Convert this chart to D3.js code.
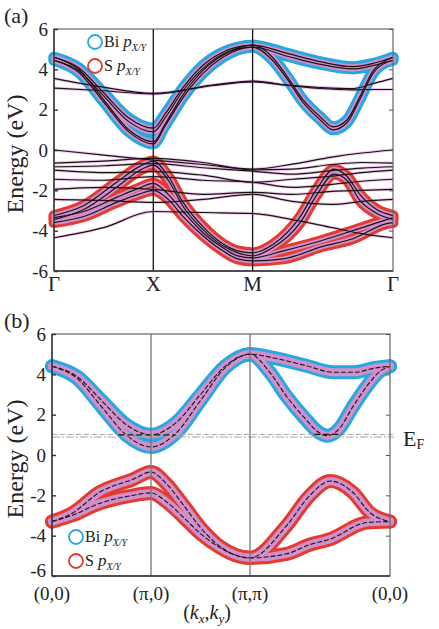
<!DOCTYPE html>
<html>
<head>
<meta charset="utf-8">
<script src="https://cdn.jsdelivr.net/npm/d3@7"></script>
<style>
  body { margin: 0; background: #fff; }
  svg { display: block; }
  text { font-family: "Liberation Serif", "Times New Roman", serif; fill: #222; }
</style>
</head>
<body>
<svg id="chart" width="439" height="629"></svg>
<script>
// k path: Γ=0, X=1, M=2, Γ=2+√2
var kTicks = [0, 1, 2, 3.414];
var kLabelsA = ['Γ', 'X', 'M', 'Γ'];
var kLabelsB = ['(0,0)', '(π,0)', '(π,π)', '(0,0)'];
var eTicks = [-6, -4, -2, 0, 2, 4, 6];

// ---- panel (a): DFT bands, [k, E] ----
// Bi p_x/y conduction bands
var biA1 = [[0,4.6],[0.25,4.08],[0.5,2.84],[0.75,1.6],[1,1.08],[1.12,1.8],[1.3,3.1],[1.5,4.2],[1.7,4.85],[2,5.2],
            [2.2,4.6],[2.35,3.63],[2.51,2.48],[2.68,1.65],[2.81,1.15],[2.95,1.49],[3.08,2.64],[3.22,3.97],[3.35,4.46],[3.414,4.6]];
var biA2 = [[0,4.45],[0.25,3.93],[0.5,2.68],[0.75,1.42],[1,0.9],[1.12,1.6],[1.3,2.95],[1.5,4.05],[1.7,4.75],[2,5.1],
            [2.2,4.45],[2.35,3.5],[2.51,2.35],[2.68,1.5],[2.81,1.0],[2.95,1.35],[3.08,2.5],[3.22,3.85],[3.35,4.35],[3.414,4.45]];
var biA3 = [[0,4.6],[0.25,3.99],[0.5,2.5],[0.75,1.02],[1,0.41],[1.12,1.3],[1.3,2.75],[1.5,3.95],[1.7,4.7],[2,5.2],
            [2.35,4.79],[2.68,4.38],[3.01,4.13],[3.22,4.3],[3.414,4.6]];
var biA4 = [[0,4.45],[0.25,3.84],[0.5,2.38],[0.75,0.91],[1,0.3],[1.12,1.2],[1.3,2.6],[1.5,3.8],[1.7,4.6],[2,5.1],
            [2.35,4.65],[2.68,4.25],[3.01,4.02],[3.22,4.2],[3.414,4.45]];
// flat conduction bands
var flatA1 = [[0,3.55],[0.46,3.14],[1,2.81],[1.6,3.22],[2,3.42],[2.35,3.22],[2.68,3.1],[3.0,3.04],[3.22,3.3],[3.414,3.55]];
var flatA2 = [[0,3.07],[0.46,2.95],[1,2.78],[1.6,3.2],[2,3.38],[2.35,3.2],[2.68,3.05],[3.0,2.98],[3.22,3.0],[3.414,3.0]];
// S p_x/y valence bands
var sA1 = [[0,-3.25],[0.3,-2.75],[0.63,-1.6],[0.85,-0.85],[1,-0.55],[1.15,-1.3],[1.3,-2.6],[1.5,-3.8],[1.7,-4.65],[1.85,-5.0],[2,-5.1],
           [2.2,-4.7],[2.48,-3.3],[2.65,-1.9],[2.82,-0.95],[2.95,-1.3],[3.08,-2.2],[3.25,-2.95],[3.414,-3.25]];
var sA2 = [[0,-3.45],[0.3,-2.95],[0.63,-1.85],[0.85,-1.05],[1,-0.75],[1.15,-1.5],[1.3,-2.8],[1.5,-3.95],[1.7,-4.75],[1.85,-5.1],[2,-5.25],
           [2.2,-4.85],[2.48,-3.6],[2.65,-2.2],[2.82,-1.2],[2.95,-1.5],[3.08,-2.5],[3.25,-3.15],[3.414,-3.45]];
var sA3 = [[0,-3.35],[0.3,-3.05],[0.63,-2.35],[0.85,-1.9],[1,-1.65],[1.15,-2.2],[1.3,-3.05],[1.5,-4.1],[1.7,-4.85],[1.85,-5.25],[2,-5.35],
           [2.31,-5.0],[2.69,-4.5],[3.01,-4.0],[3.35,-3.45],[3.414,-3.35]];
var sA4 = [[0,-3.6],[0.3,-3.3],[0.63,-2.6],[0.85,-2.2],[1,-2.0],[1.15,-2.45],[1.3,-3.3],[1.5,-4.25],[1.7,-5.0],[1.85,-5.4],[2,-5.5],
           [2.31,-5.4],[2.69,-4.8],[3.01,-4.4],[3.35,-3.65],[3.414,-3.6]];
// other valence bands (no strong weight)
var kV = [0, 0.5, 1, 1.5, 2, 2.4, 2.8, 3.1, 3.414];
var valA1 = [0.0, -0.25, -0.5, -0.72, -0.95, -0.7, -0.35, -0.15, 0.0];
var valA2 = [-0.65, -0.55, -0.42, -0.62, -0.99, -0.95, -0.72, -0.62, -0.65];
var valA3 = [-0.83, -0.78, -0.68, -0.88, -1.05, -1.2, -1.02, -0.9, -0.83];
var valA4 = [-1.0, -1.12, -1.07, -1.25, -1.6, -1.45, -1.3, -1.12, -1.0];
var valA5 = [-1.45, -1.5, -1.32, -1.5, -1.6, -1.85, -1.7, -1.55, -1.45];
var valA6 = [-1.95, -1.85, -1.95, -2.2, -2.1, -2.2, -2.05, -2.0, -1.95];
var valA7 = [-2.45, -2.5, -2.6, -2.45, -2.2, -2.55, -2.7, -2.55, -2.45];
var valA8 = [-4.35, -3.85, -3.05, -3.1, -3.15, -3.45, -3.85, -4.15, -4.35];

// ---- panel (b): model bands ----
var biB1 = [[0,4.4],[0.25,3.9],[0.5,2.7],[0.75,1.5],[1,1.0],[1.25,1.59],[1.5,3.0],[1.75,4.41],[2,5.0],
            [2.2,4.1],[2.37,2.9],[2.54,1.9],[2.7,1.1],[2.78,0.95],[2.9,1.3],[3.04,2.4],[3.21,3.6],[3.3,4.1],[3.414,4.4]];
var biB2 = [[0,4.4],[0.25,3.81],[0.5,2.4],[0.75,0.99],[1,0.4],[1.25,1.07],[1.5,2.7],[1.75,4.33],[2,5.0],
            [2.25,4.8],[2.55,4.45],[2.85,4.1],[3.05,4.1],[3.25,4.3],[3.414,4.4]];
var sB1 = [[0,-3.3],[0.2,-2.9],[0.48,-1.85],[0.82,-1.2],[1,-0.84],[1.15,-1.4],[1.33,-2.5],[1.5,-3.6],[1.7,-4.55],[1.85,-4.95],[2,-5.1],
           [2.37,-3.5],[2.6,-2.03],[2.81,-1.29],[3.04,-1.86],[3.21,-2.85],[3.414,-3.3]];
var sB2 = [[0,-3.3],[0.2,-3.0],[0.48,-2.4],[0.82,-2.0],[1,-1.88],[1.15,-2.3],[1.33,-3.1],[1.5,-3.9],[1.7,-4.6],[1.85,-4.97],[2,-5.1],
           [2.37,-4.9],[2.6,-4.45],[2.81,-4.17],[3.18,-3.35],[3.414,-3.3]];
var fermiDash = 1.02;     // dashed grey line
var fermiDashDot = 0.89;  // dash-dot grey line
var markB = [[0.67, 1.25, 1.0], [2.65, 2.93, 1.02]]; // short dashed markers [k0, k1, E]

var BLUE = '#28a8e0', RED = '#e53a2f', PINK = '#cf90cc', INK = '#1c1214';

var svg = d3.select('#chart');

function withK(vals) {
  return vals.map(function(v, i) { return [kV[i], v]; });
}

function drawPanel(cfg) {
  var g = svg.append('g');
  var x = d3.scaleLinear().domain([0, 3.414]).range([cfg.x0, cfg.x1]);
  var y = d3.scaleLinear().domain([-6, 6]).range([cfg.yb, cfg.yt]);
  var line = d3.line().x(function(d) { return x(d[0]); }).y(function(d) { return y(d[1]); }).curve(d3.curveMonotoneX);

  // faint fringes for weak bands
  cfg.plain.forEach(function(b) {
    g.append('path').attr('d', line(b)).attr('fill', 'none')
      .attr('stroke', '#d99ad6').attr('stroke-width', 3).attr('opacity', 0.55);
  });
  // fat outer strokes
  cfg.s.forEach(function(b) {
    g.append('path').attr('d', line(b)).attr('fill', 'none').attr('stroke', RED)
      .attr('stroke-width', cfg.fat).attr('stroke-linecap', 'round').attr('stroke-linejoin', 'round');
  });
  cfg.bi.forEach(function(b) {
    g.append('path').attr('d', line(b)).attr('fill', 'none').attr('stroke', BLUE)
      .attr('stroke-width', cfg.fat).attr('stroke-linecap', 'round').attr('stroke-linejoin', 'round');
  });
  // pink core
  cfg.s.concat(cfg.bi).forEach(function(b) {
    g.append('path').attr('d', line(b)).attr('fill', 'none').attr('stroke', PINK)
      .attr('stroke-width', cfg.fat - 6).attr('stroke-linecap', 'round');
  });
  // black band lines
  cfg.s.concat(cfg.bi).concat(cfg.plain).forEach(function(b) {
    g.append('path').attr('d', line(b)).attr('fill', 'none').attr('stroke', INK)
      .attr('stroke-width', cfg.lw).attr('stroke-dasharray', cfg.dash || null);
  });

  // Fermi lines (panel b)
  if (cfg.fermi) {
    g.append('line').attr('x1', cfg.x0).attr('x2', cfg.x1 + 4)
      .attr('y1', y(fermiDash)).attr('y2', y(fermiDash))
      .attr('stroke', '#a8a8a8').attr('stroke-width', 1).attr('stroke-dasharray', '5,3');
    g.append('line').attr('x1', cfg.x0).attr('x2', cfg.x1 + 4)
      .attr('y1', y(fermiDashDot)).attr('y2', y(fermiDashDot))
      .attr('stroke', '#a8a8a8').attr('stroke-width', 1).attr('stroke-dasharray', '8,2,2,2');
    markB.forEach(function(m) {
      g.append('line').attr('x1', x(m[0])).attr('x2', x(m[1]))
        .attr('y1', y(m[2])).attr('y2', y(m[2]))
        .attr('stroke', INK).attr('stroke-width', 1.2).attr('stroke-dasharray', '6,3');
    });
  }

  // vertical lines at high-symmetry points
  [1, 2].forEach(function(k) {
    g.append('line').attr('x1', x(kTicks[k])).attr('x2', x(kTicks[k]))
      .attr('y1', cfg.yt).attr('y2', cfg.yb)
      .attr('stroke', cfg.vcol).attr('stroke-width', 1.3);
  });

  // frame
  g.append('rect').attr('x', cfg.x0).attr('y', cfg.yt)
    .attr('width', cfg.x1 - cfg.x0).attr('height', cfg.yb - cfg.yt)
    .attr('fill', 'none').attr('stroke', '#666').attr('stroke-width', 1.2);
  g.append('line').attr('x1', cfg.x0).attr('x2', cfg.x0).attr('y1', cfg.yt).attr('y2', cfg.yb)
    .attr('stroke', '#333').attr('stroke-width', 1.4);
  g.append('line').attr('x1', cfg.x0).attr('x2', cfg.x1).attr('y1', cfg.yb).attr('y2', cfg.yb)
    .attr('stroke', '#333').attr('stroke-width', 1.4);

  // y axis ticks + labels
  var ax = g.append('g').attr('transform', 'translate(' + cfg.x0 + ',0)')
    .call(d3.axisLeft(y).tickValues(eTicks).tickSize(-4).tickPadding(6).tickFormat(function(d) { return String(d); }));
  ax.select('.domain').remove();
  ax.selectAll('line').attr('stroke', '#333').attr('stroke-width', 1.4);
  ax.selectAll('text').attr('font-size', 19).attr('font-family', '"Liberation Serif", serif').attr('fill', '#222')
    .attr('dy', function(d) { return d === -6 ? cfg.lowDy : '0.32em'; });
  var axr = g.append('g').attr('transform', 'translate(' + cfg.x1 + ',0)')
    .call(d3.axisRight(y).tickValues(eTicks).tickSize(-4).tickFormat(''));
  axr.select('.domain').remove();
  axr.selectAll('line').attr('stroke', '#555');

  // x labels
  kTicks.forEach(function(k, i) {
    g.append('text').attr('x', x(k)).attr('y', cfg.yb + cfg.labDy)
      .attr('text-anchor', 'middle').attr('font-size', cfg.labSize).text(cfg.labels[i]);
  });

  // y title
  g.append('text').attr('transform', 'translate(' + 23 + ',' + ((cfg.yt + cfg.yb) / 2 + 4) + ') rotate(-90)')
    .attr('text-anchor', 'middle').attr('font-size', 24).text('Energy (eV)');

  // panel tag
  g.append('text').attr('x', 4).attr('y', cfg.yt - 6).attr('font-size', 22).text(cfg.tag);

  // legend
  var items = [['Bi', BLUE], ['S', RED]];
  items.forEach(function(it, i) {
    var cy = cfg.legY + i * 24;
    g.append('circle').attr('cx', cfg.legX).attr('cy', cy).attr('r', 7)
      .attr('fill', 'none').attr('stroke', it[1]).attr('stroke-width', 1.8);
    var t = g.append('text').attr('x', cfg.legX + 9).attr('y', cy + 5).attr('font-size', 16);
    t.append('tspan').text(it[0] + ' ');
    t.append('tspan').attr('font-style', 'italic').attr('font-size', 17).text('p');
    t.append('tspan').attr('font-style', 'italic').attr('font-size', 10).attr('dy', 4).text('X/Y');
  });
  return { x: x, y: y };
}

drawPanel({
  x0: 54, x1: 393, yt: 29, yb: 271, fat: 11, lw: 1.2, vcol: '#111', lowDy: '0.32em',
  bi: [biA1, biA2, biA3, biA4],
  s: [sA1, sA2, sA3, sA4],
  plain: [flatA1, flatA2, withK(valA1), withK(valA2), withK(valA3), withK(valA4),
          withK(valA5), withK(valA6), withK(valA7), withK(valA8)],
  labels: kLabelsA, labSize: 21, labDy: 20, tag: '(a)', legX: 95, legY: 42
});

drawPanel({
  x0: 52, x1: 390, yt: 334, yb: 576, fat: 14, lw: 1.1, dash: '5,2', vcol: '#777', lowDy: '0.05em',
  bi: [biB1, biB2],
  s: [sB1, sB2],
  plain: [],
  fermi: true,
  labels: kLabelsB, labSize: 19, labDy: 24, tag: '(b)', legX: 76, legY: 537
});

// E_F label
var ef = svg.append('text').attr('x', 403).attr('y', 446).attr('font-size', 22);
ef.append('tspan').text('E');
ef.append('tspan').attr('font-size', 14).attr('dy', 3).text('F');

// (kx,ky) label
var kl = svg.append('text').attr('x', 207).attr('y', 619).attr('text-anchor', 'middle').attr('font-size', 20);
kl.append('tspan').text('(');
kl.append('tspan').attr('font-style', 'italic').text('k');
kl.append('tspan').attr('font-style', 'italic').attr('font-size', 13).attr('dy', 4).text('x');
kl.append('tspan').attr('dy', -4).text(',');
kl.append('tspan').attr('font-style', 'italic').text('k');
kl.append('tspan').attr('font-style', 'italic').attr('font-size', 13).attr('dy', 4).text('y');
kl.append('tspan').attr('dy', -4).text(')');
</script>
</body>
</html>
